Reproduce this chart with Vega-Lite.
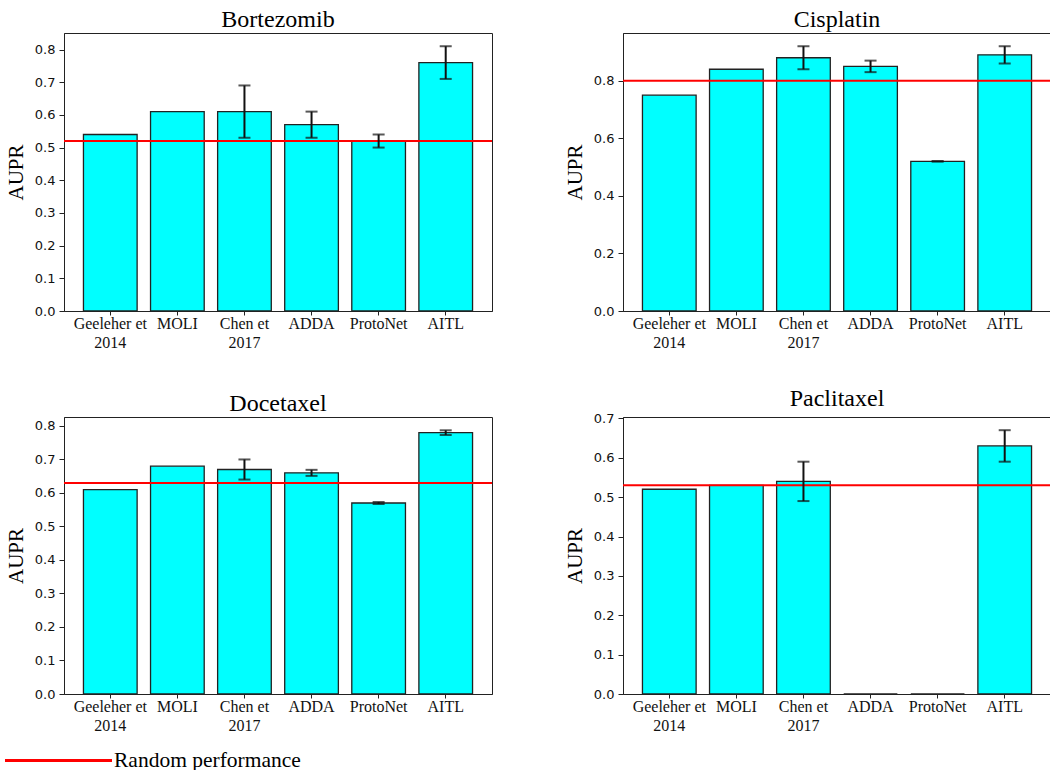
{
  "$schema": "https://vega.github.io/schema/vega-lite/v6.json",
  "background": "white",
  "padding": {"left": 4, "top": 7, "right": 0, "bottom": 0},
  "datasets": {
    "bars": [
      {"drug": "Bortezomib", "method": "Geeleher et 2014", "aupr": 0.54, "lo": null, "hi": null},
      {"drug": "Bortezomib", "method": "MOLI", "aupr": 0.61, "lo": null, "hi": null},
      {"drug": "Bortezomib", "method": "Chen et 2017", "aupr": 0.61, "lo": 0.53, "hi": 0.69},
      {"drug": "Bortezomib", "method": "ADDA", "aupr": 0.57, "lo": 0.53, "hi": 0.61},
      {"drug": "Bortezomib", "method": "ProtoNet", "aupr": 0.52, "lo": 0.50, "hi": 0.54},
      {"drug": "Bortezomib", "method": "AITL", "aupr": 0.76, "lo": 0.71, "hi": 0.81},
      {"drug": "Cisplatin", "method": "Geeleher et 2014", "aupr": 0.75, "lo": null, "hi": null},
      {"drug": "Cisplatin", "method": "MOLI", "aupr": 0.84, "lo": null, "hi": null},
      {"drug": "Cisplatin", "method": "Chen et 2017", "aupr": 0.88, "lo": 0.84, "hi": 0.92},
      {"drug": "Cisplatin", "method": "ADDA", "aupr": 0.85, "lo": 0.83, "hi": 0.87},
      {"drug": "Cisplatin", "method": "ProtoNet", "aupr": 0.52, "lo": 0.519, "hi": 0.521},
      {"drug": "Cisplatin", "method": "AITL", "aupr": 0.89, "lo": 0.86, "hi": 0.92},
      {"drug": "Docetaxel", "method": "Geeleher et 2014", "aupr": 0.61, "lo": null, "hi": null},
      {"drug": "Docetaxel", "method": "MOLI", "aupr": 0.68, "lo": null, "hi": null},
      {"drug": "Docetaxel", "method": "Chen et 2017", "aupr": 0.67, "lo": 0.64, "hi": 0.70},
      {"drug": "Docetaxel", "method": "ADDA", "aupr": 0.66, "lo": 0.651, "hi": 0.669},
      {"drug": "Docetaxel", "method": "ProtoNet", "aupr": 0.57, "lo": 0.567, "hi": 0.573},
      {"drug": "Docetaxel", "method": "AITL", "aupr": 0.78, "lo": 0.773, "hi": 0.787},
      {"drug": "Paclitaxel", "method": "Geeleher et 2014", "aupr": 0.52, "lo": null, "hi": null},
      {"drug": "Paclitaxel", "method": "MOLI", "aupr": 0.53, "lo": null, "hi": null},
      {"drug": "Paclitaxel", "method": "Chen et 2017", "aupr": 0.54, "lo": 0.49, "hi": 0.59},
      {"drug": "Paclitaxel", "method": "ADDA", "aupr": 0, "lo": null, "hi": null},
      {"drug": "Paclitaxel", "method": "ProtoNet", "aupr": 0, "lo": null, "hi": null},
      {"drug": "Paclitaxel", "method": "AITL", "aupr": 0.63, "lo": 0.59, "hi": 0.67}
    ],
    "random": [
      {"drug": "Bortezomib", "random": 0.52},
      {"drug": "Cisplatin", "random": 0.80},
      {"drug": "Docetaxel", "random": 0.63},
      {"drug": "Paclitaxel", "random": 0.53}
    ]
  },
  "columns": 2,
  "spacing": {"column": 69, "row": 35},
  "concat": [
    {
      "title": "Bortezomib",
      "width": 428, "height": 278,
      "layer": [
        {"data": {"name": "bars"}, "transform": [{"filter": "datum.drug === 'Bortezomib'"}],
         "mark": {"type": "bar", "fill": "#00ffff", "stroke": "#222222", "strokeWidth": 1.3},
         "encoding": {
           "x": {"field": "method", "type": "nominal", "sort": ["Geeleher et 2014", "MOLI", "Chen et 2017", "ADDA", "ProtoNet", "AITL"], "scale": {"paddingInner": 0.2, "paddingOuter": 0.29}, "axis": {"title": null}},
           "y": {"field": "aupr", "type": "quantitative", "scale": {"domain": [0, 0.8505], "nice": false}, "axis": {"title": "AUPR", "values": [0, 0.1, 0.2, 0.3, 0.4, 0.5, 0.6, 0.7, 0.8]}}
         }},
        {"data": {"name": "random"}, "transform": [{"filter": "datum.drug === 'Bortezomib'"}],
         "mark": {"type": "rule", "strokeWidth": 2},
         "encoding": {"y": {"field": "random", "type": "quantitative", "axis": {"title": "AUPR", "values": [0, 0.1, 0.2, 0.3, 0.4, 0.5, 0.6, 0.7, 0.8]}}, "color": {"datum": "Random performance", "type": "nominal"}}},
        {"data": {"name": "bars"}, "transform": [{"filter": "datum.drug === 'Bortezomib' && isValid(datum.lo)"}],
         "mark": {"type": "rule", "color": "#111111", "strokeWidth": 2},
         "encoding": {"x": {"field": "method", "type": "nominal", "sort": ["Geeleher et 2014", "MOLI", "Chen et 2017", "ADDA", "ProtoNet", "AITL"]}, "y": {"field": "lo", "type": "quantitative", "axis": {"title": "AUPR", "values": [0, 0.1, 0.2, 0.3, 0.4, 0.5, 0.6, 0.7, 0.8]}}, "y2": {"field": "hi"}}},
        {"data": {"name": "bars"}, "transform": [{"filter": "datum.drug === 'Bortezomib' && isValid(datum.lo)"}],
         "mark": {"type": "tick", "color": "#111111", "thickness": 2, "size": 12},
         "encoding": {"x": {"field": "method", "type": "nominal", "sort": ["Geeleher et 2014", "MOLI", "Chen et 2017", "ADDA", "ProtoNet", "AITL"]}, "y": {"field": "lo", "type": "quantitative", "axis": {"title": "AUPR", "values": [0, 0.1, 0.2, 0.3, 0.4, 0.5, 0.6, 0.7, 0.8]}}}},
        {"data": {"name": "bars"}, "transform": [{"filter": "datum.drug === 'Bortezomib' && isValid(datum.lo)"}],
         "mark": {"type": "tick", "color": "#111111", "thickness": 2, "size": 12},
         "encoding": {"x": {"field": "method", "type": "nominal", "sort": ["Geeleher et 2014", "MOLI", "Chen et 2017", "ADDA", "ProtoNet", "AITL"]}, "y": {"field": "hi", "type": "quantitative", "axis": {"title": "AUPR", "values": [0, 0.1, 0.2, 0.3, 0.4, 0.5, 0.6, 0.7, 0.8]}}}}
      ]
    },
    {
      "title": "Cisplatin",
      "width": 428, "height": 278,
      "layer": [
        {"data": {"name": "bars"}, "transform": [{"filter": "datum.drug === 'Cisplatin'"}],
         "mark": {"type": "bar", "fill": "#00ffff", "stroke": "#222222", "strokeWidth": 1.3},
         "encoding": {
           "x": {"field": "method", "type": "nominal", "sort": ["Geeleher et 2014", "MOLI", "Chen et 2017", "ADDA", "ProtoNet", "AITL"], "scale": {"paddingInner": 0.2, "paddingOuter": 0.29}, "axis": {"title": null}},
           "y": {"field": "aupr", "type": "quantitative", "scale": {"domain": [0, 0.966], "nice": false}, "axis": {"title": "AUPR", "values": [0, 0.2, 0.4, 0.6, 0.8]}}
         }},
        {"data": {"name": "random"}, "transform": [{"filter": "datum.drug === 'Cisplatin'"}],
         "mark": {"type": "rule", "strokeWidth": 2},
         "encoding": {"y": {"field": "random", "type": "quantitative", "axis": {"title": "AUPR", "values": [0, 0.2, 0.4, 0.6, 0.8]}}, "color": {"datum": "Random performance", "type": "nominal"}}},
        {"data": {"name": "bars"}, "transform": [{"filter": "datum.drug === 'Cisplatin' && isValid(datum.lo)"}],
         "mark": {"type": "rule", "color": "#111111", "strokeWidth": 2},
         "encoding": {"x": {"field": "method", "type": "nominal", "sort": ["Geeleher et 2014", "MOLI", "Chen et 2017", "ADDA", "ProtoNet", "AITL"]}, "y": {"field": "lo", "type": "quantitative", "axis": {"title": "AUPR", "values": [0, 0.2, 0.4, 0.6, 0.8]}}, "y2": {"field": "hi"}}},
        {"data": {"name": "bars"}, "transform": [{"filter": "datum.drug === 'Cisplatin' && isValid(datum.lo)"}],
         "mark": {"type": "tick", "color": "#111111", "thickness": 2, "size": 12},
         "encoding": {"x": {"field": "method", "type": "nominal", "sort": ["Geeleher et 2014", "MOLI", "Chen et 2017", "ADDA", "ProtoNet", "AITL"]}, "y": {"field": "lo", "type": "quantitative", "axis": {"title": "AUPR", "values": [0, 0.2, 0.4, 0.6, 0.8]}}}},
        {"data": {"name": "bars"}, "transform": [{"filter": "datum.drug === 'Cisplatin' && isValid(datum.lo)"}],
         "mark": {"type": "tick", "color": "#111111", "thickness": 2, "size": 12},
         "encoding": {"x": {"field": "method", "type": "nominal", "sort": ["Geeleher et 2014", "MOLI", "Chen et 2017", "ADDA", "ProtoNet", "AITL"]}, "y": {"field": "hi", "type": "quantitative", "axis": {"title": "AUPR", "values": [0, 0.2, 0.4, 0.6, 0.8]}}}}
      ]
    },
    {
      "title": "Docetaxel",
      "width": 428, "height": 277,
      "layer": [
        {"data": {"name": "bars"}, "transform": [{"filter": "datum.drug === 'Docetaxel'"}],
         "mark": {"type": "bar", "fill": "#00ffff", "stroke": "#222222", "strokeWidth": 1.3},
         "encoding": {
           "x": {"field": "method", "type": "nominal", "sort": ["Geeleher et 2014", "MOLI", "Chen et 2017", "ADDA", "ProtoNet", "AITL"], "scale": {"paddingInner": 0.2, "paddingOuter": 0.29}, "axis": {"title": null}},
           "y": {"field": "aupr", "type": "quantitative", "scale": {"domain": [0, 0.8267], "nice": false}, "axis": {"title": "AUPR", "values": [0, 0.1, 0.2, 0.3, 0.4, 0.5, 0.6, 0.7, 0.8]}}
         }},
        {"data": {"name": "random"}, "transform": [{"filter": "datum.drug === 'Docetaxel'"}],
         "mark": {"type": "rule", "strokeWidth": 2},
         "encoding": {"y": {"field": "random", "type": "quantitative", "axis": {"title": "AUPR", "values": [0, 0.1, 0.2, 0.3, 0.4, 0.5, 0.6, 0.7, 0.8]}}, "color": {"datum": "Random performance", "type": "nominal"}}},
        {"data": {"name": "bars"}, "transform": [{"filter": "datum.drug === 'Docetaxel' && isValid(datum.lo)"}],
         "mark": {"type": "rule", "color": "#111111", "strokeWidth": 2},
         "encoding": {"x": {"field": "method", "type": "nominal", "sort": ["Geeleher et 2014", "MOLI", "Chen et 2017", "ADDA", "ProtoNet", "AITL"]}, "y": {"field": "lo", "type": "quantitative", "axis": {"title": "AUPR", "values": [0, 0.1, 0.2, 0.3, 0.4, 0.5, 0.6, 0.7, 0.8]}}, "y2": {"field": "hi"}}},
        {"data": {"name": "bars"}, "transform": [{"filter": "datum.drug === 'Docetaxel' && isValid(datum.lo)"}],
         "mark": {"type": "tick", "color": "#111111", "thickness": 2, "size": 12},
         "encoding": {"x": {"field": "method", "type": "nominal", "sort": ["Geeleher et 2014", "MOLI", "Chen et 2017", "ADDA", "ProtoNet", "AITL"]}, "y": {"field": "lo", "type": "quantitative", "axis": {"title": "AUPR", "values": [0, 0.1, 0.2, 0.3, 0.4, 0.5, 0.6, 0.7, 0.8]}}}},
        {"data": {"name": "bars"}, "transform": [{"filter": "datum.drug === 'Docetaxel' && isValid(datum.lo)"}],
         "mark": {"type": "tick", "color": "#111111", "thickness": 2, "size": 12},
         "encoding": {"x": {"field": "method", "type": "nominal", "sort": ["Geeleher et 2014", "MOLI", "Chen et 2017", "ADDA", "ProtoNet", "AITL"]}, "y": {"field": "hi", "type": "quantitative", "axis": {"title": "AUPR", "values": [0, 0.1, 0.2, 0.3, 0.4, 0.5, 0.6, 0.7, 0.8]}}}}
      ]
    },
    {
      "title": "Paclitaxel",
      "width": 428, "height": 277,
      "layer": [
        {"data": {"name": "bars"}, "transform": [{"filter": "datum.drug === 'Paclitaxel'"}],
         "mark": {"type": "bar", "fill": "#00ffff", "stroke": "#222222", "strokeWidth": 1.3},
         "encoding": {
           "x": {"field": "method", "type": "nominal", "sort": ["Geeleher et 2014", "MOLI", "Chen et 2017", "ADDA", "ProtoNet", "AITL"], "scale": {"paddingInner": 0.2, "paddingOuter": 0.29}, "axis": {"title": null}},
           "y": {"field": "aupr", "type": "quantitative", "scale": {"domain": [0, 0.7035], "nice": false}, "axis": {"title": "AUPR", "values": [0, 0.1, 0.2, 0.3, 0.4, 0.5, 0.6, 0.7]}}
         }},
        {"data": {"name": "random"}, "transform": [{"filter": "datum.drug === 'Paclitaxel'"}],
         "mark": {"type": "rule", "strokeWidth": 2},
         "encoding": {"y": {"field": "random", "type": "quantitative", "axis": {"title": "AUPR", "values": [0, 0.1, 0.2, 0.3, 0.4, 0.5, 0.6, 0.7]}}, "color": {"datum": "Random performance", "type": "nominal"}}},
        {"data": {"name": "bars"}, "transform": [{"filter": "datum.drug === 'Paclitaxel' && isValid(datum.lo)"}],
         "mark": {"type": "rule", "color": "#111111", "strokeWidth": 2},
         "encoding": {"x": {"field": "method", "type": "nominal", "sort": ["Geeleher et 2014", "MOLI", "Chen et 2017", "ADDA", "ProtoNet", "AITL"]}, "y": {"field": "lo", "type": "quantitative", "axis": {"title": "AUPR", "values": [0, 0.1, 0.2, 0.3, 0.4, 0.5, 0.6, 0.7]}}, "y2": {"field": "hi"}}},
        {"data": {"name": "bars"}, "transform": [{"filter": "datum.drug === 'Paclitaxel' && isValid(datum.lo)"}],
         "mark": {"type": "tick", "color": "#111111", "thickness": 2, "size": 12},
         "encoding": {"x": {"field": "method", "type": "nominal", "sort": ["Geeleher et 2014", "MOLI", "Chen et 2017", "ADDA", "ProtoNet", "AITL"]}, "y": {"field": "lo", "type": "quantitative", "axis": {"title": "AUPR", "values": [0, 0.1, 0.2, 0.3, 0.4, 0.5, 0.6, 0.7]}}}},
        {"data": {"name": "bars"}, "transform": [{"filter": "datum.drug === 'Paclitaxel' && isValid(datum.lo)"}],
         "mark": {"type": "tick", "color": "#111111", "thickness": 2, "size": 12},
         "encoding": {"x": {"field": "method", "type": "nominal", "sort": ["Geeleher et 2014", "MOLI", "Chen et 2017", "ADDA", "ProtoNet", "AITL"]}, "y": {"field": "hi", "type": "quantitative", "axis": {"title": "AUPR", "values": [0, 0.1, 0.2, 0.3, 0.4, 0.5, 0.6, 0.7]}}}}
      ]
    }
  ],
  "resolve": {"scale": {"color": "shared"}},
  "config": {
    "view": {"stroke": "#222222", "strokeWidth": 1},
    "range": {"category": ["#ff0000"]},
    "title": {"font": "Liberation Serif", "fontSize": 24, "fontWeight": "normal", "color": "#000000", "offset": 1},
    "axis": {"grid": false, "domainColor": "#222222", "tickColor": "#222222", "labelColor": "#111111", "titleColor": "#000000"},
    "axisY": {"labelFont": "DejaVu Sans", "labelFontSize": 13, "tickSize": 5, "labelPadding": 4, "format": ".1f", "labelOverlap": false, "titleFont": "Liberation Serif", "titleFontSize": 21, "titleFontWeight": "normal", "titlePadding": 8},
    "axisX": {"labelFont": "Liberation Serif", "labelFontSize": 16, "labelAngle": 0, "tickSize": 4, "labelPadding": 0, "labelLineHeight": 19, "labelBaseline": "top",
      "labelExpr": "datum.value == 'Geeleher et 2014' ? ['Geeleher et', '2014'] : datum.value == 'Chen et 2017' ? ['Chen et', '2017'] : datum.value"},
    "legend": {"orient": "none", "legendX": -18, "legendY": 715, "title": null, "symbolType": "M-5,0H5", "symbolSize": 458, "symbolStrokeWidth": 3, "symbolStrokeColor": "#ff0000", "symbolFillColor": "transparent", "labelFont": "Liberation Serif", "labelFontSize": 21.5, "labelColor": "#000000", "labelOffset": 43, "labelLimit": 400, "padding": 0}
  }
}
